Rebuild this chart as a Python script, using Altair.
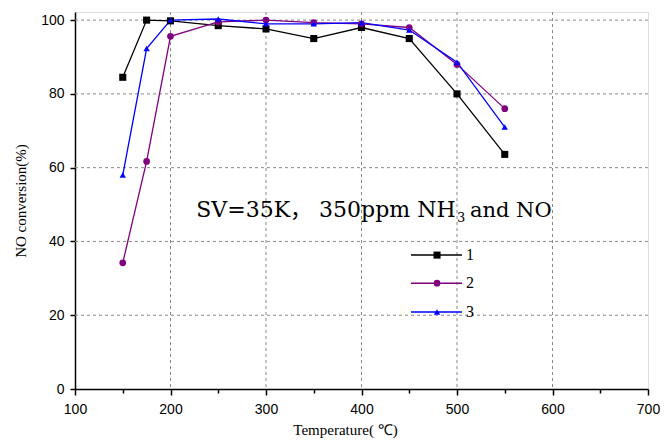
import altair as alt
import pandas as pd

temps = [150, 175, 200, 250, 300, 350, 400, 450, 500, 550]
s1 = [84.5, 100.0, 99.8, 98.5, 97.6, 95.0, 98.0, 95.0, 80.0, 63.6]
s2 = [34.2, 61.7, 95.6, 99.5, 100.0, 99.3, 99.0, 98.0, 88.0, 76.0]
s3 = [58.0, 92.3, 100.0, 100.3, 99.0, 99.0, 99.3, 97.3, 88.6, 71.0]
series = ["1", "2", "3"]
colors = ["#000000", "#800080", "#0000FF"]
shapes = ["square", "circle", "triangle-up"]
sizes = [50, 40, 75]

x_ticks = [100, 150, 200, 250, 300, 350, 400, 450, 500, 550, 600, 650, 700]
y_ticks = [0, 20, 40, 60, 80, 100]
x_grid = [200, 300, 400, 500, 600]
y_grid = [20, 40, 60, 80, 100]

# annotation pieces (main text, subscript, tail) and legend positions, in data space
note_main = "SV=35K，  350ppm NH"
note_sub = "3"
note_tail = "and NO"
note_main_x, note_sub_x, note_tail_x = 498.5, 500.0, 513.5
note_y, note_sub_y = 46.6, 45.2
leg_y = [36.3, 28.7, 20.9]
leg_x1 = 451.8
leg_x2 = 505.2
leg_xm = 479.1
leg_xt = 509.4

rows = []
for name, vals in zip(series, [s1, s2, s3]):
    for t, v in zip(temps, vals):
        rows.append({"T": t, "v": v, "s": name})
df = pd.DataFrame(rows)

leg = pd.DataFrame({"s": series, "y": leg_y, "x1": [leg_x1] * 3, "x2": [leg_x2] * 3,
                    "xm": [leg_xm] * 3, "xt": [leg_xt] * 3})
gx = pd.DataFrame({"g": x_grid})
gy = pd.DataFrame({"g": y_grid})

xscale = alt.Scale(domain=[100, 700], nice=False)
yscale = alt.Scale(domain=[0, 102.2], nice=False)
cscale = alt.Scale(domain=series, range=colors)
shscale = alt.Scale(domain=series, range=shapes)
szscale = alt.Scale(domain=series, range=sizes)

xaxis = alt.Axis(
    values=x_ticks,
    labelExpr="datum.value % 100 == 0 ? datum.label : ''",
    title="Temperature( ℃)",
    titleFont="Liberation Serif", titleFontSize=15, titleFontWeight="normal",
    titlePadding=6, titleX=270,
    labelFont="Liberation Sans", labelFontSize=14, labelColor="#000",
    labelPadding=7, labelFlush=False,
    tickSize={"condition": {"test": "datum.value % 100 == 0", "value": 6}, "value": 4},
    tickColor="#000", tickWidth=1.5,
    domainColor="#000", domainWidth=1.5,
    grid=False,
)
yaxis = alt.Axis(
    values=y_ticks,
    title="NO conversion(%)",
    titleFont="Liberation Serif", titleFontSize=15, titleFontWeight="normal",
    titlePadding=12,
    labelFont="Liberation Sans", labelFontSize=14, labelColor="#000",
    labelPadding=6,
    tickSize=5, tickColor="#000", tickWidth=1.5,
    domainColor="#000", domainWidth=1.5,
    grid=False,
)

gridx = alt.Chart(gx).mark_rule(color="#888888", strokeWidth=1, strokeDash=[3, 3]).encode(
    x=alt.X("g:Q", scale=xscale, axis=xaxis),
    y=alt.value(0), y2=alt.value(377))
gridy = alt.Chart(gy).mark_rule(color="#888888", strokeWidth=1, strokeDash=[3, 3]).encode(
    y=alt.Y("g:Q", scale=yscale, axis=yaxis),
    x=alt.value(0), x2=alt.value(573))

base = alt.Chart(df)
lines = base.mark_line(strokeWidth=1.3).encode(
    x=alt.X("T:Q", scale=xscale),
    y=alt.Y("v:Q", scale=yscale),
    color=alt.Color("s:N", scale=cscale, legend=None),
)
points = base.mark_point(filled=True, opacity=1).encode(
    x=alt.X("T:Q", scale=xscale),
    y=alt.Y("v:Q", scale=yscale),
    color=alt.Color("s:N", scale=cscale, legend=None),
    shape=alt.Shape("s:N", scale=shscale, legend=None),
    size=alt.Size("s:N", scale=szscale, legend=None),
)

note_df = pd.DataFrame({"t": [note_main, note_sub, note_tail],
                        "x": [note_main_x, note_sub_x, note_tail_x],
                        "y": [note_y, note_sub_y, note_y],
                        "k": ["main", "sub", "tail"]})
nb = alt.Chart(note_df)
ann_main = nb.transform_filter("datum.k == 'main'").mark_text(
    font="DejaVu Serif, Noto Sans CJK SC", fontSize=22, align="right", baseline="alphabetic", color="#000").encode(
    x=alt.X("x:Q", scale=xscale), y=alt.Y("y:Q", scale=yscale), text="t:N")
ann_sub = nb.transform_filter("datum.k == 'sub'").mark_text(
    font="DejaVu Serif", fontSize=13, align="left", baseline="alphabetic", color="#000").encode(
    x=alt.X("x:Q", scale=xscale), y=alt.Y("y:Q", scale=yscale), text="t:N")
ann_tail = nb.transform_filter("datum.k == 'tail'").mark_text(
    font="DejaVu Serif", fontSize=21, align="left", baseline="alphabetic", color="#000").encode(
    x=alt.X("x:Q", scale=xscale), y=alt.Y("y:Q", scale=yscale), text="t:N")

lb = alt.Chart(leg)
leg_lines = lb.mark_rule(strokeWidth=1.5).encode(
    x=alt.X("x1:Q", scale=xscale), x2="x2:Q", y=alt.Y("y:Q", scale=yscale),
    color=alt.Color("s:N", scale=cscale, legend=None))
leg_pts = lb.mark_point(filled=True, opacity=1).encode(
    x=alt.X("xm:Q", scale=xscale), y=alt.Y("y:Q", scale=yscale),
    color=alt.Color("s:N", scale=cscale, legend=None),
    shape=alt.Shape("s:N", scale=shscale, legend=None),
    size=alt.Size("s:N", scale=szscale, legend=None))
leg_txt = lb.mark_text(font="Liberation Serif", fontSize=16, align="left",
                       baseline="middle", color="#000").encode(
    x=alt.X("xt:Q", scale=xscale), y=alt.Y("y:Q", scale=yscale), text="s:N")

chart = alt.layer(gridx, gridy, lines, points, ann_main, ann_sub, ann_tail,
                  leg_lines, leg_pts, leg_txt).properties(
    width=573, height=377,
    autosize=alt.AutoSizeParams(type="none"),
    padding={"left": 67, "top": 4, "right": 13, "bottom": 49},
).configure_view(stroke="#000", strokeWidth=1.5).configure(background="white")

chart.save("out.html", embed_options={"renderer": "svg", "actions": False})
